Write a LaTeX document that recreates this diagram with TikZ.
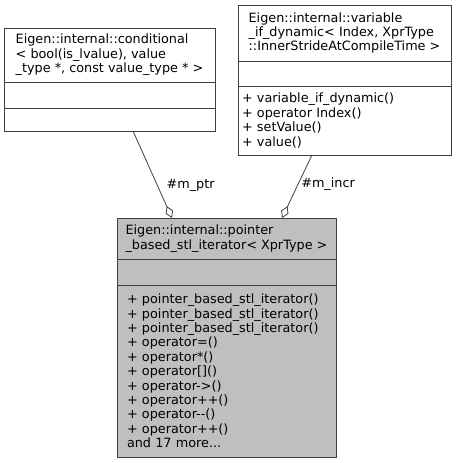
\documentclass[tikz,border=0pt]{standalone}
\usepackage{fontspec}
\setmainfont{DejaVu Sans}
\usetikzlibrary{arrows.meta,positioning}

\definecolor{boxgrey}{HTML}{BFBFBF}
\definecolor{linegrey}{HTML}{404040}

\begin{document}
\begin{tikzpicture}[
    x=1pt, y=-1pt,
    font=\fontsize{12.8}{14.4}\selectfont,
    part/.style={
        rectangle, draw=linegrey,
        fill=white,
        line width=0.9pt,
        anchor=north west,
        inner ysep=0pt,
        outer sep=0pt
    },
    clstitle/.style={
        part,
        align=left,
        inner xsep=0pt
    },
    clsfield/.style={
        part
    },
    clsmeth/.style={
        part,
        align=left
    },
    current/.style={
        fill=boxgrey
    },
    agg/.style={
        draw=linegrey,
        line width=0.8pt,
        -{Diamond[open,length=13pt,width=8pt,line width=0.8pt]}
    },
    edgelabel/.style={
        anchor=west,
        inner sep=3pt
    }
]
\useasboundingbox (0,0) rectangle (457,463);

% conditional< ... >
\node[clstitle, minimum width=211, minimum height=54] (condtitle) at (4,28)
    {Eigen::internal::conditional\\
     < bool(is\_lvalue), value\\
     \_type *, const value\_type * >};
\node[clsfield, minimum width=211, minimum height=26] (condattr) at (condtitle.south west) {};
\node[clsfield, minimum width=211, minimum height=23] (condmeth) at (condattr.south west) {};

% variable_if_dynamic< ... >
\node[clstitle, minimum width=213, minimum height=56] (vartitle) at (238,5)
    {Eigen::internal::variable\\
     \_if\_dynamic< Index, XprType\\
     ::InnerStrideAtCompileTime >};
\node[clsfield, minimum width=213, minimum height=25] (varattr) at (vartitle.south west) {};
\node[clsmeth, text width=205, inner xsep=4, minimum height=69] (varmeth) at (varattr.south west)
    {+ variable\_if\_dynamic()\\
     + operator Index()\\
     + setValue()\\
     + value()};

% pointer_based_stl_iterator< XprType >
\node[clstitle, current, minimum width=219, minimum height=41] (itertitle) at (117,218)
    {Eigen::internal::pointer\\
     \_based\_stl\_iterator< XprType >};
\node[clsfield, current, minimum width=219, minimum height=26] (iterattr) at (itertitle.south west) {};
\node[clsmeth, current, text width=199, inner xsep=10, minimum height=172] (itermeth) at (iterattr.south west)
    {+ pointer\_based\_stl\_iterator()\\
     + pointer\_based\_stl\_iterator()\\
     + pointer\_based\_stl\_iterator()\\
     + operator=()\\
     + operator*()\\
     + operator[]()\\
     + operator->()\\
     + operator++()\\
     + operator-{}-()\\
     + operator++()\\
     and 17 more...};

% aggregations
\draw[agg] ([xshift=23.5pt]condmeth.south) --
    node[edgelabel,pos=0.62,xshift=6pt] {\#m\_ptr}
    ([xshift=-54.5pt]itertitle.north);
\draw[agg] ([xshift=-32.5pt]varmeth.south) --
    node[edgelabel,pos=0.47] {\#m\_incr}
    ([xshift=55.5pt]itertitle.north);

\end{tikzpicture}
\end{document}
